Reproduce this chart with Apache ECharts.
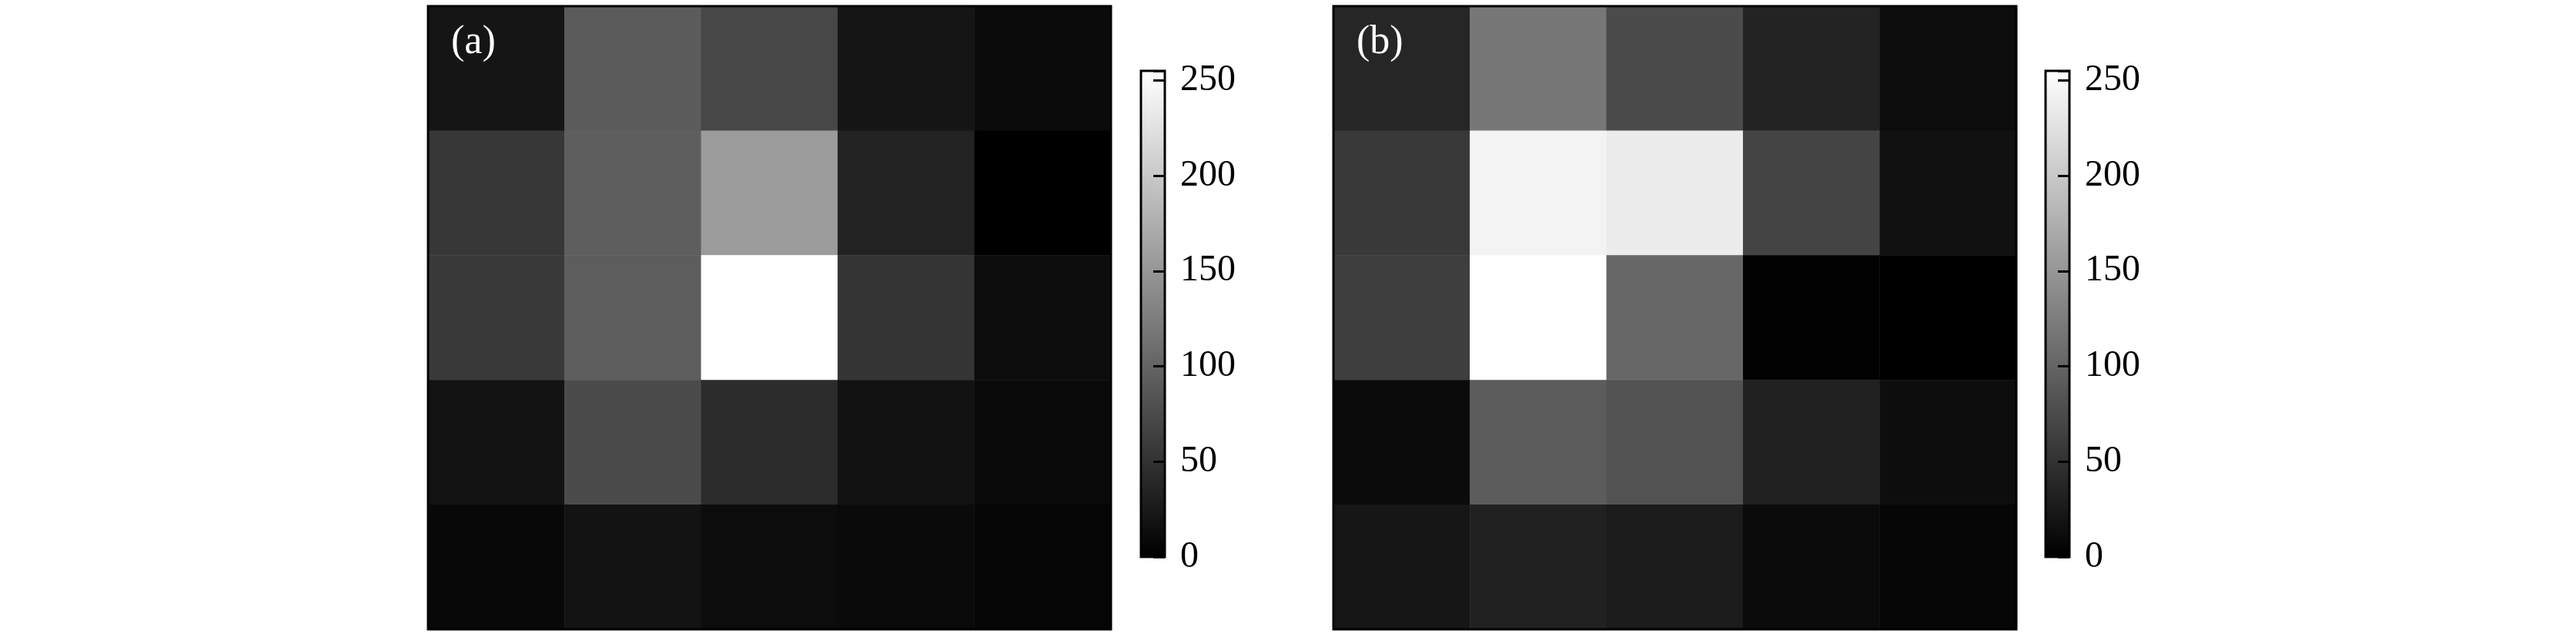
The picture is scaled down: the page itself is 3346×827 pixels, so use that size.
<!DOCTYPE html>
<html>
<head>
<meta charset="utf-8">
<style>
html,body{margin:0;padding:0;background:#fff;}
#chart{width:3346px;height:827px;}
</style>
<script src="https://cdn.jsdelivr.net/npm/echarts@6/dist/echarts.min.js"></script>
</head>
<body>
<div id="chart"></div>
<script>
// Grey levels (0-255), rows listed top to bottom, columns left to right
const colCats = ['1', '2', '3', '4', '5'];
const rowCats = ['1', '2', '3', '4', '5'];
const panelA = [
  [21, 91, 71, 21, 11],
  [55, 94, 155, 34, 0],
  [57, 93, 255, 53, 12],
  [19, 75, 44, 18, 9],
  [8, 19, 12, 10, 5]
];
const panelB = [
  [38, 119, 75, 35, 12],
  [57, 243, 236, 68, 17],
  [62, 254, 103, 2, 0],
  [11, 92, 82, 33, 13],
  [22, 33, 27, 11, 6]
];
const panelLabels = ['(a)', '(b)'];
const colorbarMax = 255;
const colorbarTicks = [0, 50, 100, 150, 200, 250];

function toCells(m) {
  const out = [];
  m.forEach((row, r) => row.forEach((v, c) => out.push([c, r, v])));
  return out;
}

const serif = "'Liberation Serif', 'DejaVu Serif', serif";
const panels = [
  {data: panelA, left: 556, cbLeft: 1482, labelLeft: 581},
  {data: panelB, left: 1732, cbLeft: 2657, labelLeft: 1757}
];

const grid = [], xAxis = [], yAxis = [], series = [], title = [];
panels.forEach((p, i) => {
  // heatmap grid
  grid.push({left: p.left, top: 8, width: 887, height: 809, show: true,
    borderColor: '#000', borderWidth: 3, backgroundColor: 'transparent', z: 10, containLabel: false});
  xAxis.push({type: 'category', data: colCats, gridIndex: 2 * i, show: false});
  yAxis.push({type: 'category', data: rowCats, gridIndex: 2 * i, inverse: true, show: false});
  series.push({type: 'heatmap', xAxisIndex: 2 * i, yAxisIndex: 2 * i,
    data: toCells(p.data), itemStyle: {borderWidth: 0}, emphasis: {disabled: true}, silent: true, progressive: 0});
  // colorbar grid
  grid.push({left: p.cbLeft, top: 92, width: 31, height: 631, show: true,
    borderColor: '#000', borderWidth: 3, backgroundColor: 'transparent', z: 10});
  xAxis.push({type: 'category', data: ['cb'], gridIndex: 2 * i + 1, show: false});
  yAxis.push({type: 'value', gridIndex: 2 * i + 1, min: 0, max: colorbarMax, interval: 50,
    position: 'right', splitLine: {show: false}, axisLine: {show: false},
    axisTick: {show: true, inside: true, length: 15, lineStyle: {color: '#000', width: 3}},
    axisLabel: {show: true, margin: 20, color: '#000', fontSize: 48, fontFamily: serif,
      formatter: v => colorbarTicks.indexOf(v) >= 0 ? String(v) : ''},
    z: 11});
  series.push({type: 'bar', xAxisIndex: 2 * i + 1, yAxisIndex: 2 * i + 1, data: [colorbarMax],
    barWidth: '100%', silent: true, animation: false,
    itemStyle: {color: {type: 'linear', x: 0, y: 1, x2: 0, y2: 0,
      colorStops: [{offset: 0, color: '#000000'}, {offset: 1, color: '#ffffff'}]}}});
  title.push({text: panelLabels[i], left: p.labelLeft, top: 24, z: 20,
    textStyle: {color: '#ffffff', fontSize: 52, fontFamily: serif, fontWeight: 'normal'}});
});

const chart = echarts.init(document.getElementById('chart'), null, {renderer: 'canvas'});
chart.setOption({
  animation: false,
  backgroundColor: '#ffffff',
  title: title,
  grid: grid,
  xAxis: xAxis,
  yAxis: yAxis,
  visualMap: {type: 'continuous', show: false, min: 0, max: 255, seriesIndex: [0, 2],
    inRange: {color: ['#000000', '#ffffff']}},
  series: series
});
</script>
</body>
</html>
